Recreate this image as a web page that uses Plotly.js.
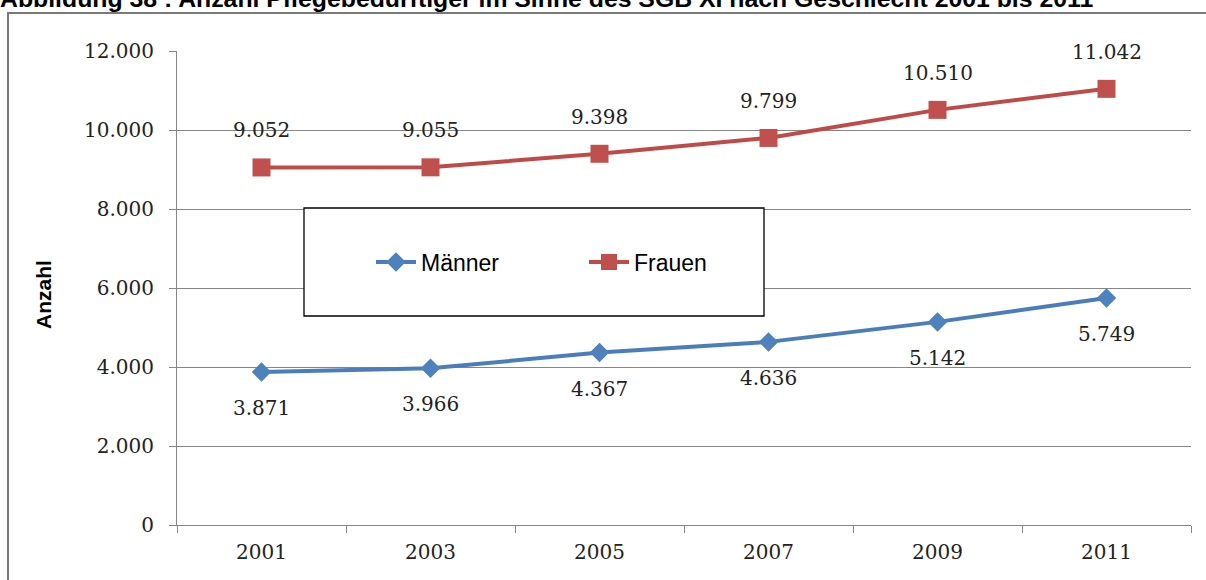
<!DOCTYPE html>
<html>
<head>
<meta charset="utf-8">
<script src="https://cdn.plot.ly/plotly-3.0.1.min.js"></script>
<style>html,body{margin:0;padding:0;background:#fff;}#chart{width:1206px;height:580px;}</style>
</head>
<body>
<div id="chart"></div>
<script>
const years = ["2001", "2003", "2005", "2007", "2009", "2011"];
const maenner = [3871, 3966, 4367, 4636, 5142, 5749];
const frauen = [9052, 9055, 9398, 9799, 10510, 11042];
const yTicks = [0, 2000, 4000, 6000, 8000, 10000, 12000];
const titleText = "Abbildung 38 : Anzahl Pflegebedürftiger im Sinne des SGB XI nach Geschlecht 2001 bis 2011";
const yTitle = "Anzahl";
const seriesNames = ["Männer", "Frauen"];

const W = 1206, H = 580;
const M = {l: 177, r: 15, t: 51, b: 55};
const pw = W - M.l - M.r, ph = H - M.t - M.b;
const px = x => (x - M.l) / pw;
const py = y => (H - M.b - y) / ph;

const serif = "DejaVu Serif, serif";
const sans = "Liberation Sans, Arial, sans-serif";

const traces = [
  {
    x: years, y: maenner, name: seriesNames[0], type: "scatter", mode: "lines+markers",
    line: {color: "#4a7ebb", width: 4},
    marker: {symbol: "diamond", size: 15, color: "#4f81bd"},
    hoverinfo: "skip"
  },
  {
    x: years, y: frauen, name: seriesNames[1], type: "scatter", mode: "lines+markers",
    line: {color: "#be4b48", width: 4},
    marker: {symbol: "square", size: 18, color: "#c0504d"},
    hoverinfo: "skip"
  }
];

const fmt = v => v.toLocaleString("de-DE");
const annotations = [];
years.forEach((yr, i) => {
  annotations.push({x: i, y: maenner[i], xref: "x", yref: "y", text: fmt(maenner[i]),
    showarrow: false, yshift: -36, font: {family: serif, size: 20, color: "#222"}});
  annotations.push({x: i, y: frauen[i], xref: "x", yref: "y", text: fmt(frauen[i]),
    showarrow: false, yshift: 37, font: {family: serif, size: 20, color: "#222"}});
});
annotations.push({xref: "paper", yref: "paper", x: px(-2), y: py(14), xanchor: "left", yanchor: "bottom",
  text: "<b>" + titleText + "</b>", showarrow: false, font: {family: sans, size: 24.8, color: "#000"}});
annotations.push({xref: "paper", yref: "paper", x: px(43), y: py(295), xanchor: "center", yanchor: "middle",
  text: "<b>" + yTitle + "</b>", textangle: -90, showarrow: false, font: {family: sans, size: 21, color: "#000"}});

const layout = {
  width: W, height: H,
  margin: M,
  paper_bgcolor: "#fff", plot_bgcolor: "#fff",
  separators: ",.",
  showlegend: true,
  legend: {orientation: "h", x: px(371), y: py(262), xanchor: "left", yanchor: "middle",
    bgcolor: "rgba(0,0,0,0)", borderwidth: 0, entrywidth: 158, itemwidth: 40,
    font: {family: sans, size: 23, color: "#000"}},
  xaxis: {
    type: "category", categoryorder: "array", categoryarray: years,
    range: [-0.5, years.length - 0.5],
    showline: true, linecolor: "#868686", linewidth: 1,
    ticks: "outside", tickson: "boundaries", ticklen: 7, tickcolor: "#868686",
    showgrid: false, zeroline: false,
    tickfont: {family: serif, size: 20, color: "#222"},
    ticklabelstandoff: 9,
    fixedrange: true
  },
  yaxis: {
    range: [0, 12000], tickvals: yTicks, tickformat: ",d",
    showline: true, linecolor: "#868686", linewidth: 1,
    ticks: "outside", ticklen: 7, tickcolor: "#868686",
    showgrid: true, gridcolor: "#868686", gridwidth: 1, zeroline: false,
    tickfont: {family: serif, size: 20, color: "#222"},
    ticklabelstandoff: 11,
    fixedrange: true
  },
  shapes: [
    {type: "rect", xref: "paper", yref: "paper", x0: px(304), x1: px(764), y0: py(316), y1: py(208),
      fillcolor: "#fff", line: {color: "#000", width: 1.3}, layer: "above"},
    {type: "rect", xref: "paper", yref: "paper", x0: px(8), x1: px(1220), y0: py(600), y1: py(13),
      fillcolor: "rgba(0,0,0,0)", line: {color: "#7a7a7a", width: 2}, layer: "below"}
  ],
  annotations: annotations
};

Plotly.newPlot("chart", traces, layout, {displayModeBar: false, staticPlot: true});
</script>
</body>
</html>
